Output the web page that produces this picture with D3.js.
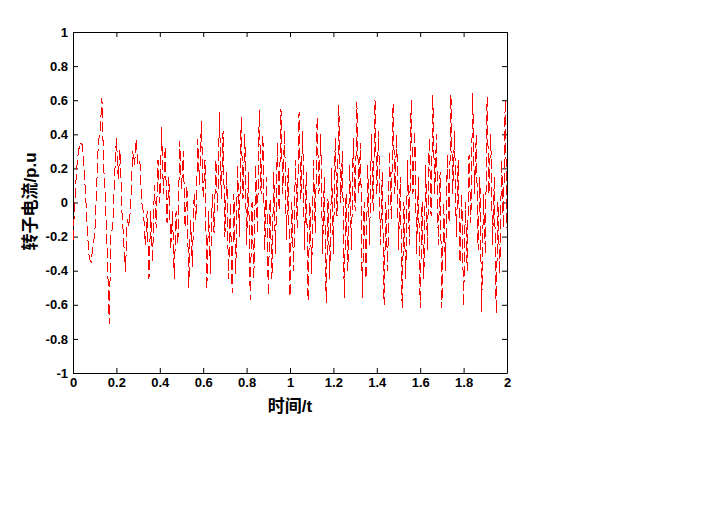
<!DOCTYPE html>
<html>
<head>
<meta charset="utf-8">
<script src="https://cdn.jsdelivr.net/npm/d3@7"></script>
<style>
  body { margin: 0; background: #fff; }
  .axis text { font-family: "Liberation Sans", Arial, sans-serif; font-weight: bold; font-size: 13px; fill: #000; }
  .axis path, .axis line { stroke: #000; }
  .label { font-family: "Liberation Sans", "Noto Sans CJK SC", sans-serif; font-weight: bold; font-size: 17px; fill: #000; }
</style>
</head>
<body>
<div id="chart"></div>
<script>
// rotor current (p.u.), one value every 2/240 s
var timeStep = 2 / 240;
var rotorCurrent = [
  -0.22, 0.00, 0.20, 0.30, 0.35, 0.34, 0.22, 0.04, -0.18, -0.33,
  -0.35, -0.26, -0.19, 0.06, 0.35, 0.42, 0.61, 0.20, 0.00, -0.30,
  -0.71, -0.18, -0.15, 0.15, 0.38, 0.14, 0.31, -0.04, -0.22, -0.41,
  -0.10, -0.14, 0.00, 0.30, 0.22, 0.37, 0.22, 0.24, 0.00, -0.06,
  -0.25, -0.05, -0.45, -0.05, -0.35, 0.10, -0.15, 0.25, 0.00, 0.44,
  0.05, 0.33, -0.12, 0.15, -0.28, -0.05, -0.45, -0.05, -0.25, 0.36,
  0.08, 0.30, -0.15, 0.10, -0.50, -0.10, -0.38, 0.05, -0.10, 0.37,
  0.10, 0.48, 0.02, 0.25, -0.51, -0.05, -0.42, 0.05, -0.18, 0.25,
  -0.05, 0.53, 0.02, 0.42, -0.20, 0.18, -0.45, 0.00, -0.53, 0.05,
  -0.42, 0.22, -0.20, 0.50, 0.02, 0.40, -0.25, 0.18, -0.57, 0.00,
  -0.45, 0.22, -0.18, 0.54, 0.05, 0.40, -0.28, 0.15, -0.55, 0.02,
  -0.45, 0.18, -0.30, 0.35, -0.05, 0.55, 0.05, 0.42, -0.22, 0.20,
  -0.55, 0.00, -0.40, 0.25, -0.15, 0.53, 0.02, 0.42, -0.28, 0.18,
  -0.58, 0.00, -0.42, 0.25, -0.18, 0.50, 0.05, 0.40, -0.30, 0.15,
  -0.59, 0.02, -0.45, 0.20, -0.30, 0.38, -0.08, 0.57, 0.00, 0.30,
  -0.56, 0.05, -0.40, 0.22, -0.28, 0.38, -0.05, 0.59, 0.05, 0.35,
  -0.56, 0.00, -0.45, 0.22, -0.25, 0.40, -0.05, 0.60, 0.05, 0.42,
  -0.25, 0.18, -0.60, 0.00, -0.40, 0.30, -0.10, 0.58, 0.05, 0.40,
  -0.28, 0.15, -0.62, 0.00, -0.45, 0.25, -0.25, 0.60, 0.05, 0.42,
  -0.30, 0.15, -0.62, 0.00, -0.45, 0.22, -0.28, 0.38, -0.08, 0.63,
  0.05, 0.40, -0.25, 0.18, -0.62, 0.00, -0.40, 0.28, -0.12, 0.63,
  0.05, 0.42, -0.20, 0.25, -0.35, 0.05, -0.61, 0.00, -0.40, 0.28,
  -0.12, 0.64, 0.05, 0.40, -0.28, 0.15, -0.64, 0.05, -0.30, 0.62,
  0.05, 0.40, -0.25, 0.15, -0.65, 0.00, -0.42, 0.25, -0.15, 0.60,
  -0.15
];
var xTicks = [0, 0.2, 0.4, 0.6, 0.8, 1, 1.2, 1.4, 1.6, 1.8, 2];
var yTicks = [-1, -0.8, -0.6, -0.4, -0.2, 0, 0.2, 0.4, 0.6, 0.8, 1];
var xLabel = "时间/t";
var yLabel = "转子电流/p.u";

var margin = {top: 32, right: 194, bottom: 153, left: 73},
    width = 701 - margin.left - margin.right,
    height = 526 - margin.top - margin.bottom;

var svg = d3.select("#chart")
  .append("svg")
  .attr("width", 701)
  .attr("height", 526)
  .style("display", "block");

svg.append("rect").attr("width", 701).attr("height", 526).attr("fill", "#fff");

var g = svg.append("g")
  .attr("transform", "translate(" + margin.left + "," + margin.top + ")");

var x = d3.scaleLinear().domain([0, 2]).range([0, width]);
var y = d3.scaleLinear().domain([-1, 1]).range([height, 0]);

var fmt = function(d) { return String(+d.toFixed(1)); };

// ticks point inward on all four sides (box on)
g.append("g").attr("class", "axis")
  .attr("transform", "translate(0," + height + ")")
  .call(d3.axisBottom(x).tickValues(xTicks).tickFormat(fmt).tickSizeInner(-5).tickSizeOuter(0).tickPadding(5));
g.append("g").attr("class", "axis")
  .call(d3.axisLeft(y).tickValues(yTicks).tickFormat(fmt).tickSizeInner(-5).tickSizeOuter(0).tickPadding(5));
g.append("g").attr("class", "axis")
  .call(d3.axisTop(x).tickValues(xTicks).tickFormat("").tickSizeInner(-5).tickSizeOuter(0));
g.append("g").attr("class", "axis")
  .attr("transform", "translate(" + width + ",0)")
  .call(d3.axisRight(y).tickValues(yTicks).tickFormat("").tickSizeInner(-5).tickSizeOuter(0));

var line = d3.line()
  .x(function(d, i) { return x(i * timeStep); })
  .y(function(d) { return y(d); });

// red dashed trace, drawn without anti-aliasing like the original
g.append("path")
  .datum(rotorCurrent)
  .attr("fill", "none")
  .attr("stroke", "#ff0000")
  .attr("stroke-width", 1)
  .attr("stroke-dasharray", "10,4")
  .attr("shape-rendering", "crispEdges")
  .attr("d", line);

g.append("text")
  .attr("class", "label")
  .attr("x", width / 2)
  .attr("y", height + 39)
  .style("text-anchor", "middle")
  .text(xLabel);

g.append("text")
  .attr("class", "label")
  .attr("transform", "rotate(-90)")
  .attr("x", -(height / 2) + 1)
  .attr("y", -43)
  .attr("dy", "0.35em")
  .style("text-anchor", "middle")
  .text(yLabel);
</script>
</body>
</html>
